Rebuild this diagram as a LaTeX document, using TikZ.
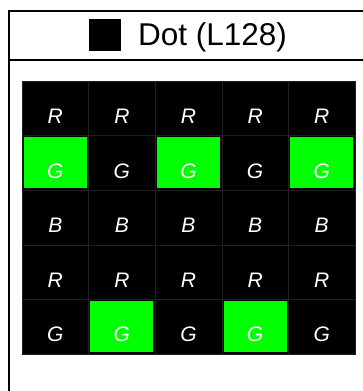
\documentclass[tikz,border=0pt]{standalone}
\usepackage{fontspec}
\setsansfont{Liberation Sans}
\usetikzlibrary{positioning}
\definecolor{litgreen}{RGB}{0,255,0}

\begin{document}
\begin{tikzpicture}[
  x=1pt, y=-1pt,
  font=\sffamily,
  % ---- Frame ----
  frame/.style={line width=1.8pt},
  % ---- Cells ----
  cell/.style={draw=black!88, line width=0.5pt, fill=black, inner sep=0pt,
               minimum width=66.6pt, minimum height=54.6pt},
  lit/.style={fill=litgreen, inner sep=0pt,
              minimum width=63pt, minimum height=51pt},
  letter/.style={text=white, inner sep=0pt,
                 font=\sffamily\itshape\fontsize{21}{24}\selectfont},
  dot/.style={fill=black, inner sep=0pt, minimum size=32pt}
]
\useasboundingbox (0,0) rectangle (363,391);
\clip (0,0) rectangle (363,391);

% ===== Frame =====
\draw[frame] (9,400) -- (9,11) -- (370,11);
\draw[frame] (9,60) -- (370,60);

% ===== Header =====
\node[dot] (dotsq) at (105,35) {};
\node[anchor=base west, inner sep=0pt, font=\sffamily\fontsize{31.5}{36}\selectfont]
  (title) at (138,45.5) {Dot (L128)};

% ===== Grid (5 x 5) =====
\foreach \l [count=\r] in {R,G,B,R,G}
  \foreach \c in {1,...,5}
    \node[cell] (c\r\c) at ({22+66.6*(\c-0.5)}, {81+54.6*(\r-0.5)}) {};

% lit cells
\foreach \r/\c in {2/1,2/3,2/5,5/2,5/4}
  \node[lit] (g\r\c) at (c\r\c) {};

% letters
\foreach \l [count=\r] in {R,G,B,R,G}
  \foreach \c in {1,...,5}
    \node[letter] (t\r\c) at ([yshift=-8pt]c\r\c.center) {\l};

\end{tikzpicture}
\end{document}
